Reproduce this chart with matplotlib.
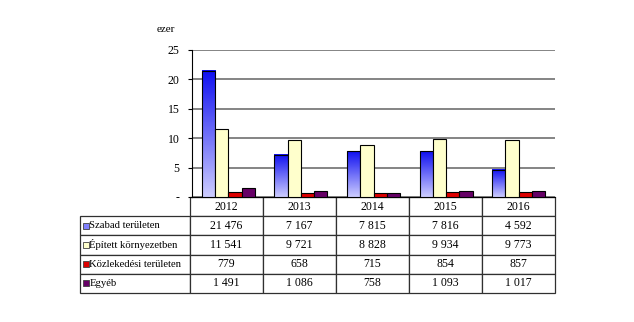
import numpy as np
import matplotlib
matplotlib.use("Agg")
import matplotlib.pyplot as plt
from matplotlib.patches import Rectangle
from matplotlib.colors import LinearSegmentedColormap

plt.rcParams['font.family'] = ['Liberation Serif', 'DejaVu Serif']

years = ['2012', '2013', '2014', '2015', '2016']
series = ['Szabad területen', 'Épített környezetben', 'Közlekedési területen', 'Egyéb']
szabad = [21476, 7167, 7815, 7816, 4592]
epitett = [11541, 9721, 8828, 9934, 9773]
kozlek = [779, 658, 715, 854, 857]
egyeb = [1491, 1086, 758, 1093, 1017]
values = [szabad, epitett, kozlek, egyeb]
colors = ['#2020ff', '#ffffcc', '#dd0000', '#660066']
yticks = [0, 5, 10, 15, 20, 25]
ytick_labels = ['-', '5', '10', '15', '20', '25']

def fmt(v):
    return '{:,}'.format(v).replace(',', ' ')

W, H = 634, 322
fig = plt.figure(figsize=(W / 100, H / 100), dpi=100)
ax = fig.add_axes([192 / W, 1 - 197 / H, 363 / W, 147 / H])

x = np.arange(len(years))
bw = 0.183
blue_cmap = LinearSegmentedColormap.from_list('bl', ['#ccccff', '#1010f0'])
grad = np.linspace(0, 1, 100).reshape(-1, 1)

for i, (vals, col) in enumerate(zip(values, colors)):
    pos = x + (i - 1.5) * bw
    h = np.array(vals) / 1000
    if i == 0:
        # blue bars have a vertical gradient
        for p, hv in zip(pos, h):
            ax.imshow(grad, cmap=blue_cmap, origin='lower', aspect='auto',
                      extent=(p - bw / 2, p + bw / 2, 0, hv), zorder=3)
        ax.bar(pos, h, width=bw, facecolor='none', edgecolor='black', linewidth=0.8, zorder=4)
    else:
        ax.bar(pos, h, width=bw, color=col, edgecolor='black', linewidth=0.8, zorder=4)

ax.set_xlim(-0.5, len(years) - 0.5)
ax.set_ylim(0, 25)
ax.set_yticks(yticks)
ax.set_yticklabels(ytick_labels, fontsize=8.5)
ax.set_xticks([])
ax.yaxis.grid(True, color='#707070', linewidth=1.2, zorder=0)
ax.set_axisbelow(True)
for s in ['top', 'right']:
    ax.spines[s].set_visible(False)
ax.spines['left'].set_color('black')
ax.spines['bottom'].set_color('black')
ax.tick_params(axis='y', length=3, pad=6, colors='black')
fig.text(157 / W, 1 - 30 / H, 'ezer', fontsize=8, va='center', ha='left')

# table under the chart
cell_text = [[''] + years]
for name, vals in zip(series, values):
    cell_text.append([name] + [fmt(v) for v in vals])

tl = -112 / 363
tw = 475 / 363
th = 96 / 147
colw = [110] + [73] * len(years)
tab = ax.table(cellText=cell_text, colWidths=[c / sum(colw) for c in colw],
               cellLoc='center', bbox=[tl, -th, tw, th])
tab.auto_set_font_size(False)
tab.set_fontsize(8.5)
for (r, c), cell in tab.get_celld().items():
    cell.set_edgecolor('#303030')
    cell.set_linewidth(0.9)
    if c == 0:
        cell._loc = 'left'
        cell.get_text().set_ha('left')
        cell.get_text().set_fontsize(7.7)
        cell.PAD = 0.085
    if r == 0 and c == 0:
        cell.visible_edges = ''

# legend swatches in the row labels
rh = th / len(cell_text)
for i, col in enumerate(colors):
    yc = -rh * (i + 1.5)
    ax.add_patch(Rectangle((tl + 3.5 / 363, yc - 2.8 / 147), 6 / 363, 6 / 147,
                           transform=ax.transAxes, facecolor=col if i else '#8080ff',
                           edgecolor='#404040', linewidth=0.6, clip_on=False, zorder=10))

fig.savefig('out.png', dpi=100)
